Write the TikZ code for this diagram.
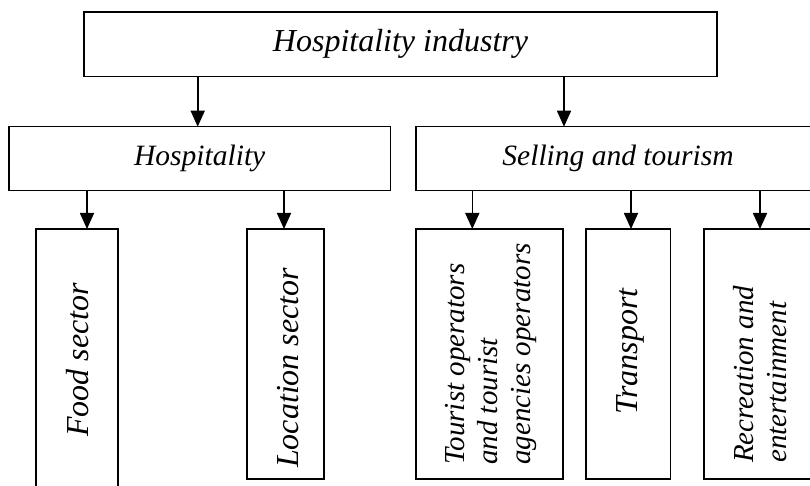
\documentclass[tikz,border=0pt]{standalone}
\usepackage{fontspec}
\setmainfont{Liberation Serif}
\newfontfamily\timesit{Liberation Serif Italic}
\usetikzlibrary{arrows.meta}
\begin{document}
\begin{tikzpicture}[x=1pt,y=-1pt,
  box/.style={draw, line width=1.6pt, rectangle, inner sep=0pt, outer sep=0pt, anchor=north west},
  arr/.style={line width=1.6pt, -{Triangle[length=16pt,width=14pt]}},
  bigtxt/.style={font=\timesit\fontsize{32}{36}\selectfont},
  midtxt/.style={font=\timesit\fontsize{29.5}{33}\selectfont},
  vlabel/.style={rotate=90, anchor=base west, inner sep=0pt, align=left, font=\timesit\fontsize{32}{36}\selectfont},
  mlabel/.style={rotate=90, anchor=base west, inner sep=0pt, align=left, font=\timesit\fontsize{29}{33}\selectfont}]
\useasboundingbox (0,0) rectangle (810,486);
\clip (0,0) rectangle (810,486);
% boxes
\node[box, bigtxt, minimum width=633pt, minimum height=64.5pt] (top) at (84,12) {Hospitality industry};
\node[box, midtxt, minimum width=381.5pt, minimum height=64pt] (hosp) at (9,126.7) {Hospitality};
\node[box, midtxt, minimum width=404pt, minimum height=64pt] (sell) at (416,126.7) {Selling and tourism};
\node[box, minimum width=82pt, minimum height=270pt] (food) at (36,229) {};
\node[box, minimum width=77pt, minimum height=250pt] (loc) at (247,229) {};
\node[box, minimum width=147pt, minimum height=250pt] (tour) at (416,229) {};
\node[box, minimum width=84.5pt, minimum height=250pt] (trans) at (586,229) {};
\node[box, minimum width=116pt, minimum height=250pt] (rec) at (704,229) {};
% labels
\node[vlabel] (foodt) at (88,437) {Food sector};
\node[vlabel] (loct) at (298,468) {Location sector};
\node[vlabel] (transt) at (637,415) {Transport};
\node[mlabel] (tourt) at (530,465) {Tourist operators\\and tourist\\agencies operators};
\node[mlabel] (rect) at (786,463) {Recreation and\\entertainment};
% arrow positions
\coordinate (a1) at (197.7,0);
\coordinate (a2) at (564,0);
\coordinate (b1) at (87,0);
\coordinate (b2) at (284,0);
\coordinate (b3) at (472.3,0);
\coordinate (b4) at (631,0);
\coordinate (b5) at (760,0);
% arrows
\draw[arr] (top.south -| a1) -- (hosp.north -| a1);
\draw[arr] (top.south -| a2) -- (sell.north -| a2);
\draw[arr] (hosp.south -| b1) -- (food.north -| b1);
\draw[arr] (hosp.south -| b2) -- (loc.north -| b2);
\draw[arr] (sell.south -| b3) -- (tour.north -| b3);
\draw[arr] (sell.south -| b4) -- (trans.north -| b4);
\draw[arr] (sell.south -| b5) -- (rec.north -| b5);
\end{tikzpicture}
\end{document}
